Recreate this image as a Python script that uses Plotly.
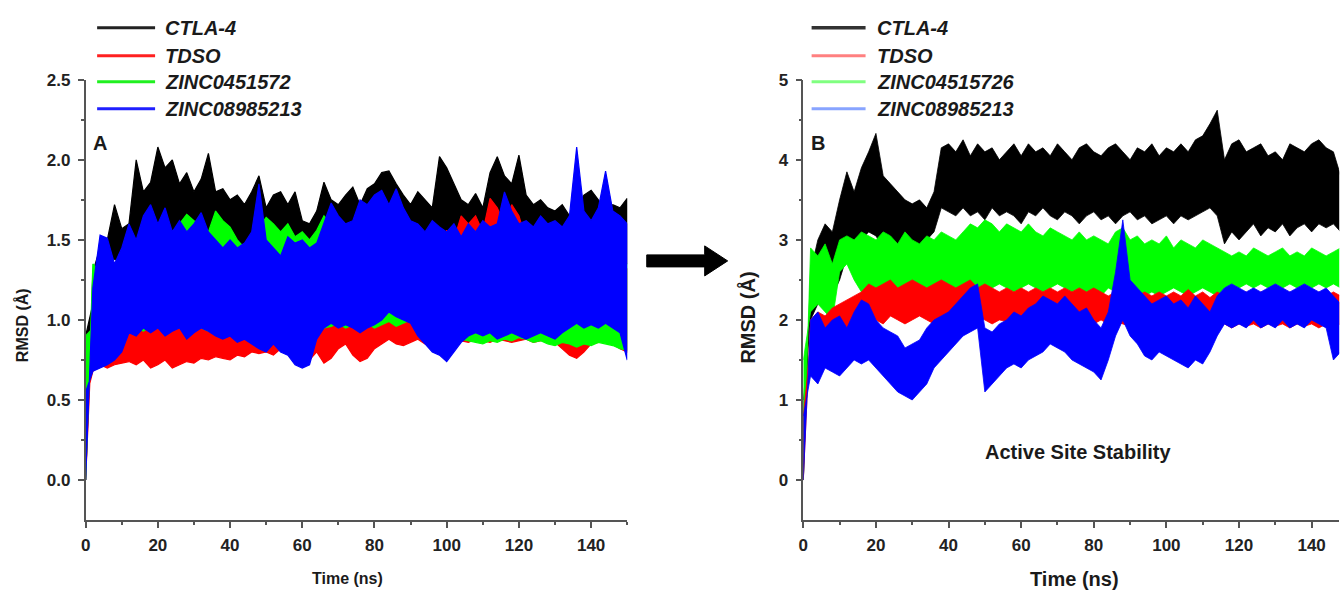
import plotly.graph_objects as go

# ---------------- data ----------------
# sample times (ns); each sample holds an upper and a lower reading of the noisy band
TIME = list(range(0, 151, 2))

SERIES_NAMES_A = ["CTLA-4", "TDSO", "ZINC0451572", "ZINC08985213"]
SERIES_NAMES_B = ["CTLA-4", "TDSO", "ZINC04515726", "ZINC08985213"]

# ---- Panel A ----
A_CTLA4_HI = [0.00, 1.30, 1.45, 1.50, 1.72, 1.57, 1.60, 2.00, 1.80, 1.86,
              2.08, 1.95, 2.00, 1.85, 1.92, 1.80, 1.88, 2.04, 1.80, 1.82,
              1.75, 1.78, 1.72, 1.80, 1.90, 1.70, 1.78, 1.80, 1.72, 1.80,
              1.62, 1.60, 1.68, 1.86, 1.75, 1.72, 1.78, 1.83, 1.72, 1.82,
              1.85, 1.92, 1.93, 1.85, 1.78, 1.72, 1.80, 1.75, 1.70, 2.02,
              1.95, 1.85, 1.75, 1.72, 1.79, 1.70, 1.92, 2.02, 1.90, 1.85,
              2.03, 1.78, 1.72, 1.75, 1.70, 1.68, 1.72, 1.65, 1.70, 1.78,
              1.81, 1.75, 1.68, 1.72, 1.70, 1.76]
A_CTLA4_LO = [0.90, 1.10, 1.25, 1.35, 1.38, 1.35, 1.40, 1.45, 1.50, 1.52,
              1.55, 1.50, 1.52, 1.48, 1.50, 1.45, 1.48, 1.50, 1.45, 1.42,
              1.45, 1.40, 1.42, 1.45, 1.40, 1.42, 1.45, 1.40, 1.42, 1.38,
              1.40, 1.38, 1.42, 1.45, 1.42, 1.40, 1.45, 1.42, 1.40, 1.45,
              1.48, 1.45, 1.42, 1.40, 1.45, 1.40, 1.42, 1.38, 1.40, 1.45,
              1.42, 1.40, 1.38, 1.40, 1.42, 1.40, 1.45, 1.48, 1.45, 1.42,
              1.45, 1.40, 1.38, 1.40, 1.42, 1.38, 1.40, 1.42, 1.40, 1.42,
              1.45, 1.42, 1.40, 1.42, 1.38, 1.35]
A_TDSO_HI = [0.00, 1.05, 1.20, 1.38, 1.25, 1.30, 1.35, 1.25, 1.30, 1.28,
             1.32, 1.30, 1.28, 1.35, 1.30, 1.32, 1.28, 1.40, 1.30, 1.35,
             1.30, 1.28, 1.32, 1.30, 1.35, 1.30, 1.28, 1.32, 1.30, 1.28,
             1.30, 1.32, 1.30, 1.35, 1.30, 1.32, 1.30, 1.28, 1.32, 1.30,
             1.35, 1.30, 1.32, 1.35, 1.30, 1.32, 1.35, 1.38, 1.40, 1.45,
             1.56, 1.50, 1.65, 1.60, 1.65, 1.55, 1.76, 1.70, 1.60, 1.72,
             1.65, 1.50, 1.55, 1.45, 1.50, 1.45, 1.40, 1.45, 1.38, 1.35,
             1.40, 1.38, 1.35, 1.38, 1.35, 1.32]
A_TDSO_LO = [0.50, 0.68, 0.72, 0.70, 0.72, 0.73, 0.74, 0.72, 0.75, 0.70,
             0.72, 0.75, 0.70, 0.72, 0.74, 0.73, 0.76, 0.75, 0.77, 0.76,
             0.75, 0.78, 0.77, 0.80, 0.79, 0.80, 0.78, 0.82, 0.80, 0.84,
             0.82, 0.75, 0.80, 0.73, 0.76, 0.82, 0.85, 0.78, 0.74, 0.76,
             0.82, 0.85, 0.88, 0.85, 0.84, 0.86, 0.88, 0.85, 0.90, 0.88,
             0.86, 0.88, 0.87, 0.86, 0.88, 0.87, 0.86, 0.88, 0.87, 0.86,
             0.87, 0.88, 0.86, 0.87, 0.88, 0.86, 0.82, 0.78, 0.76, 0.80,
             0.85, 0.86, 0.87, 0.85, 0.82, 0.80]
A_ZINC1_HI = [0.00, 1.35, 1.30, 1.40, 1.35, 1.38, 1.42, 1.45, 1.40, 1.55,
              1.50, 1.52, 1.55, 1.60, 1.66, 1.62, 1.60, 1.55, 1.68, 1.62,
              1.58, 1.50, 1.45, 1.50, 1.58, 1.64, 1.60, 1.55, 1.60, 1.52,
              1.55, 1.50, 1.56, 1.65, 1.60, 1.55, 1.52, 1.48, 1.45, 1.50,
              1.55, 1.50, 1.52, 1.55, 1.48, 1.45, 1.50, 1.42, 1.40, 1.45,
              1.40, 1.38, 1.42, 1.45, 1.40, 1.38, 1.42, 1.48, 1.45, 1.42,
              1.40, 1.38, 1.42, 1.40, 1.38, 1.42, 1.40, 1.45, 1.40, 1.42,
              1.40, 1.38, 1.40, 1.38, 1.40, 1.35]
A_ZINC1_LO = [0.90, 0.95, 0.92, 0.95, 0.93, 0.95, 0.97, 0.95, 0.93, 0.96,
              0.95, 0.97, 0.94, 0.95, 0.94, 0.96, 0.95, 0.93, 0.95, 0.92,
              0.94, 0.93, 0.95, 0.92, 0.94, 0.93, 0.95, 0.92, 0.94, 0.93,
              0.92, 0.94, 0.92, 0.95, 0.96, 0.98, 0.95, 0.97, 0.96, 0.98,
              0.95, 0.97, 0.99, 0.96, 0.98, 1.00, 0.96, 0.94, 0.92, 0.90,
              0.92, 0.90, 0.88, 0.87, 0.86, 0.85, 0.87, 0.86, 0.88, 0.87,
              0.89, 0.88, 0.86, 0.87, 0.85, 0.84, 0.86, 0.85, 0.83, 0.85,
              0.84, 0.86, 0.85, 0.84, 0.82, 0.81]
A_ZINC2_HI = [0.00, 1.20, 1.53, 1.51, 1.35, 1.45, 1.60, 1.50, 1.65, 1.72,
              1.60, 1.70, 1.55, 1.62, 1.55, 1.60, 1.67, 1.55, 1.50, 1.45,
              1.50, 1.45, 1.48, 1.55, 1.85, 1.50, 1.45, 1.40, 1.52, 1.48,
              1.50, 1.45, 1.48, 1.60, 1.73, 1.65, 1.60, 1.62, 1.75, 1.72,
              1.78, 1.81, 1.72, 1.82, 1.70, 1.62, 1.60, 1.55, 1.62, 1.58,
              1.55, 1.60, 1.52, 1.60, 1.55, 1.62, 1.58, 1.60, 1.80, 1.68,
              1.60, 1.62, 1.58, 1.65, 1.60, 1.62, 1.58, 1.65, 2.08, 1.68,
              1.62, 1.70, 1.93, 1.68, 1.65, 1.60]
A_ZINC2_LO = [0.55, 0.68, 0.70, 0.72, 0.75, 0.80, 0.92, 0.90, 0.95, 0.92,
              0.95, 0.90, 0.93, 0.95, 0.88, 0.92, 0.95, 0.93, 0.90, 0.88,
              0.90, 0.86, 0.88, 0.85, 0.82, 0.80, 0.85, 0.80, 0.78, 0.72,
              0.70, 0.72, 0.88, 0.95, 0.98, 0.95, 0.97, 0.95, 0.92, 0.95,
              0.97, 1.00, 1.05, 1.02, 1.00, 0.98, 0.90, 0.85, 0.80, 0.78,
              0.74, 0.80, 0.86, 0.90, 0.92, 0.90, 0.92, 0.88, 0.90, 0.92,
              0.90, 0.88, 0.90, 0.92, 0.90, 0.88, 0.92, 0.95, 0.98, 0.95,
              0.97, 0.95, 0.98, 0.95, 0.92, 0.75]

# ---- Panel B ----
B_CTLA4_HI = [0.00, 2.60, 3.00, 3.20, 3.10, 3.50, 3.85, 3.60, 3.90, 4.10,
              4.33, 3.80, 3.70, 3.60, 3.50, 3.45, 3.50, 3.40, 3.60, 4.15,
              4.20, 4.10, 4.25, 4.05, 4.20, 4.10, 4.15, 4.00, 4.10, 4.20,
              4.05, 4.20, 4.10, 4.15, 4.05, 4.20, 4.10, 4.00, 4.15, 4.20,
              4.10, 4.05, 4.15, 4.20, 4.10, 4.00, 4.15, 4.10, 4.20, 4.05,
              4.15, 4.10, 4.20, 4.10, 4.25, 4.30, 4.45, 4.62, 4.00, 4.20,
              4.25, 4.10, 4.15, 4.20, 4.05, 4.10, 4.00, 4.20, 4.15, 4.10,
              4.20, 4.25, 4.15, 4.10, 3.80, 3.60]
B_CTLA4_LO = [1.00, 2.00, 2.20, 2.40, 2.30, 2.50, 2.80, 2.90, 3.00, 3.10,
              3.05, 2.90, 2.80, 2.85, 2.90, 2.95, 2.90, 3.00, 3.10, 3.40,
              3.35, 3.30, 3.40, 3.30, 3.35, 3.25, 3.40, 3.30, 3.35, 3.30,
              3.20, 3.35, 3.30, 3.40, 3.30, 3.25, 3.35, 3.30, 3.20, 3.30,
              3.35, 3.25, 3.30, 3.20, 3.30, 3.35, 3.25, 3.30, 3.20, 3.25,
              3.30, 3.20, 3.30, 3.25, 3.30, 3.35, 3.40, 3.30, 2.95, 3.10,
              3.00, 3.10, 3.20, 3.05, 3.15, 3.10, 3.20, 3.05, 3.15, 3.20,
              3.10, 3.20, 3.15, 3.20, 3.10, 3.00]
B_TDSO_HI = [0.00, 2.00, 2.10, 2.05, 2.15, 2.20, 2.25, 2.30, 2.35, 2.45,
             2.40, 2.45, 2.50, 2.40, 2.45, 2.50, 2.45, 2.40, 2.45, 2.50,
             2.45, 2.40, 2.45, 2.50, 2.40, 2.45, 2.40, 2.35, 2.40, 2.35,
             2.40, 2.35, 2.40, 2.35, 2.40, 2.35, 2.40, 2.35, 2.40, 2.35,
             2.40, 2.35, 2.30, 2.35, 2.40, 2.35, 2.30, 2.35, 2.30, 2.35,
             2.30, 2.35, 2.30, 2.38, 2.30, 2.35, 2.28, 2.35, 2.30, 2.35,
             2.30, 2.35, 2.30, 2.35, 2.32, 2.35, 2.30, 2.35, 2.30, 2.35,
             2.30, 2.35, 2.30, 2.35, 2.30, 2.30]
B_TDSO_LO = [0.80, 1.70, 1.75, 1.80, 1.75, 1.80, 1.90, 1.95, 2.00, 2.05,
             2.00, 1.95, 2.05, 2.00, 1.95, 2.00, 2.05, 2.00, 1.95, 2.00,
             2.05, 2.00, 1.95, 2.00, 2.05, 2.00, 1.95, 2.00, 1.98, 2.00,
             1.95, 2.00, 1.98, 1.95, 2.00, 1.95, 1.98, 2.00, 1.95, 1.98,
             1.95, 2.00, 1.95, 1.98, 1.95, 1.92, 1.95, 1.98, 1.95, 1.92,
             1.95, 1.92, 1.95, 1.90, 1.95, 1.92, 1.95, 1.92, 1.95, 1.90,
             1.95, 1.92, 1.95, 1.90, 1.95, 1.92, 1.95, 1.90, 1.95, 1.92,
             1.95, 1.90, 1.95, 1.92, 1.95, 1.90]
B_ZINC1_HI = [0.00, 2.90, 2.80, 2.95, 2.70, 3.00, 3.05, 3.00, 3.10, 3.05,
              3.00, 3.10, 3.05, 2.95, 3.10, 3.00, 2.95, 3.05, 3.00, 3.10,
              3.05, 3.00, 3.10, 3.20, 3.15, 3.25, 3.20, 3.10, 3.20, 3.15,
              3.10, 3.20, 3.10, 3.05, 3.15, 3.10, 3.05, 3.00, 3.10, 3.00,
              3.05, 3.00, 2.95, 3.10, 3.15, 3.00, 3.05, 2.95, 3.00, 2.95,
              3.05, 2.90, 3.00, 2.95, 2.90, 3.00, 2.95, 2.90, 2.85, 2.80,
              2.85, 2.80, 2.90, 2.85, 2.80, 2.85, 2.90, 2.80, 2.85, 2.80,
              2.90, 2.85, 2.80, 2.85, 2.90, 2.80]
B_ZINC1_LO = [1.50, 2.10, 2.20, 2.10, 2.00, 2.60, 2.70, 2.50, 2.35, 2.30,
              2.35, 2.40, 2.30, 2.35, 2.30, 2.40, 2.35, 2.30, 2.40, 2.45,
              2.40, 2.35, 2.30, 2.45, 2.40, 2.35, 2.40, 2.45, 2.40, 2.35,
              2.40, 2.45, 2.40, 2.35, 2.40, 2.45, 2.40, 2.35, 2.40, 2.30,
              2.35, 2.30, 2.40, 2.35, 2.30, 2.40, 2.35, 2.30, 2.35, 2.30,
              2.35, 2.40, 2.35, 2.30, 2.35, 2.40, 2.35, 2.30, 2.40, 2.45,
              2.40, 2.45, 2.40, 2.45, 2.40, 2.45, 2.40, 2.45, 2.40, 2.45,
              2.40, 2.45, 2.40, 2.45, 2.40, 2.40]
B_ZINC2_HI = [0.00, 2.00, 2.10, 1.90, 2.00, 2.05, 1.90, 2.10, 2.25, 2.20,
              2.00, 1.90, 1.85, 1.80, 1.65, 1.70, 1.75, 1.90, 2.00, 2.05,
              2.10, 2.20, 2.30, 2.40, 2.45, 1.90, 1.85, 1.95, 2.00, 2.10,
              2.05, 2.15, 2.20, 2.30, 2.25, 2.20, 2.30, 2.20, 2.10, 2.15,
              2.00, 1.90, 2.10, 2.60, 3.25, 2.50, 2.40, 2.30, 2.20, 2.25,
              2.30, 2.20, 2.25, 2.15, 2.30, 2.20, 2.10, 2.30, 2.40, 2.45,
              2.40, 2.35, 2.40, 2.35, 2.40, 2.45, 2.40, 2.35, 2.40, 2.45,
              2.40, 2.35, 2.40, 2.30, 2.20, 2.30]
B_ZINC2_LO = [0.80, 1.30, 1.20, 1.40, 1.35, 1.30, 1.40, 1.50, 1.45, 1.50,
              1.40, 1.30, 1.20, 1.10, 1.05, 1.00, 1.10, 1.20, 1.40, 1.50,
              1.60, 1.70, 1.80, 1.85, 1.90, 1.10, 1.20, 1.30, 1.40, 1.45,
              1.40, 1.50, 1.55, 1.60, 1.70, 1.65, 1.60, 1.50, 1.45, 1.40,
              1.35, 1.25, 1.50, 1.80, 2.00, 1.80, 1.70, 1.55, 1.50, 1.60,
              1.55, 1.50, 1.45, 1.40, 1.50, 1.45, 1.60, 1.80, 1.95, 1.90,
              1.95, 1.90, 2.00, 1.90, 1.95, 1.90, 2.00, 1.90, 1.95, 1.90,
              2.00, 1.95, 1.90, 1.50, 1.60, 1.70]

X_TICKS = [0, 20, 40, 60, 80, 100, 120, 140]
A_Y_TICKS = [0.0, 0.5, 1.0, 1.5, 2.0, 2.5]
B_Y_TICKS = [0, 1, 2, 3, 4, 5]

# ---------------- figure ----------------
W, H = 1340, 590
COL_A = ["#000000", "#ff0000", "#00ff00", "#0000ff"]
LEG_A = ["#222222", "#ff2020", "#20f020", "#2020ff"]
LEG_B = ["#333333", "#ff8080", "#80ff80", "#88a4ff"]
FONT = "Liberation Sans, Arial, sans-serif"

# small correction for the offset observed between intended and photographed pixels
OX, SX = 4.8, 0.997
OY, SY = 9.3, 0.984


def px(x):
    return ((x - OX) / SX) / W


def py(y):
    return 1 - ((y - OY) / SY) / H


def band(times, hi, lo):
    # upper readings left-to-right, then lower readings back, closed at t=0
    xs = [times[0]] + list(times) + list(times[::-1])
    ys = [0.0] + list(hi) + list(lo[::-1])
    return xs, ys


fig = go.Figure()

A_SETS = [(A_CTLA4_HI, A_CTLA4_LO), (A_TDSO_HI, A_TDSO_LO),
          (A_ZINC1_HI, A_ZINC1_LO), (A_ZINC2_HI, A_ZINC2_LO)]
B_SETS = [(B_CTLA4_HI, B_CTLA4_LO), (B_TDSO_HI, B_TDSO_LO),
          (B_ZINC1_HI, B_ZINC1_LO), (B_ZINC2_HI, B_ZINC2_LO)]

# panel A: black, red, green, blue (blue on top)
for idx in [0, 1, 2, 3]:
    hi, lo = A_SETS[idx]
    xs, ys = band(TIME, hi, lo)
    fig.add_trace(go.Scatter(x=xs, y=ys, mode="lines", name=SERIES_NAMES_A[idx],
                             fill="toself", fillcolor=COL_A[idx],
                             line=dict(color=COL_A[idx], width=1.2),
                             xaxis="x", yaxis="y", showlegend=False))
# panel B: black, green, red, blue
for idx in [0, 2, 1, 3]:
    hi, lo = B_SETS[idx]
    xs, ys = band(TIME, hi, lo)
    fig.add_trace(go.Scatter(x=xs, y=ys, mode="lines", name=SERIES_NAMES_B[idx],
                             fill="toself", fillcolor=COL_A[idx],
                             line=dict(color=COL_A[idx], width=0.8),
                             xaxis="x2", yaxis="y2", showlegend=False))

YDOM = [py(520), py(80)]
TICKC = "#555555"
axis_common = dict(showgrid=False, zeroline=False, showline=True, linecolor=TICKC,
                   linewidth=1.6, ticks="outside", ticklen=6, tickwidth=1.6,
                   tickcolor=TICKC, layer="above traces",
                   tickfont=dict(family=FONT, size=17, color="#222222", weight="bold"))


def minor(vals):
    return dict(tickvals=vals, ticklen=3, tickwidth=1.6, tickcolor=TICKC, ticks="outside")


fig.update_layout(
    width=W, height=H, margin=dict(l=0, r=0, t=0, b=0),
    paper_bgcolor="white", plot_bgcolor="white", showlegend=False,
    xaxis=dict(domain=[px(85.5), px(627.5)], range=[0, 150], anchor="y",
               tickvals=X_TICKS, minor=minor([10, 30, 50, 70, 90, 110, 130, 150]),
               ticklabelstandoff=3, **axis_common),
    yaxis=dict(domain=YDOM, range=[-0.25, 2.5001], anchor="x",
               tickvals=A_Y_TICKS, ticktext=[f"{v:.1f}" for v in A_Y_TICKS],
               minor=minor([0.25, 0.75, 1.25, 1.75, 2.25]),
               ticklabelstandoff=4, **axis_common),
    xaxis2=dict(domain=[px(803.7), min(1.0, px(1340))], range=[0, 147.6], anchor="y2",
                tickvals=X_TICKS, minor=minor([10, 30, 50, 70, 90, 110, 130]),
                ticklabelstandoff=3, **axis_common),
    yaxis2=dict(domain=YDOM, range=[-0.5, 5.0002], anchor="x2",
                tickvals=B_Y_TICKS, ticktext=[str(v) for v in B_Y_TICKS],
                minor=minor([0.5, 1.5, 2.5, 3.5, 4.5]),
                ticklabelstandoff=4, **axis_common),
)

annotations = []
shapes = []


def text(x, y, s, size, italic=False, xanchor="center", angle=0, color="#1a1a1a"):
    annotations.append(dict(
        x=px(x), y=py(y), xref="paper", yref="paper", text=s, showarrow=False,
        xanchor=xanchor, yanchor="middle", textangle=angle,
        font=dict(family=FONT, size=size, color=color, weight="bold",
                  style="italic" if italic else "normal")))


# legends
LEG_Y = [28, 56, 82, 109]
for name, c, yy in zip(SERIES_NAMES_A, LEG_A, LEG_Y):
    shapes.append(dict(type="line", xref="paper", yref="paper",
                       x0=px(97), x1=px(155), y0=py(yy), y1=py(yy),
                       line=dict(color=c, width=3)))
    text(163, yy, name, 20, italic=True, xanchor="left")
for name, c, yy in zip(SERIES_NAMES_B, LEG_B, LEG_Y):
    shapes.append(dict(type="line", xref="paper", yref="paper",
                       x0=px(812), x1=px(866), y0=py(yy), y1=py(yy),
                       line=dict(color=c, width=3.5 if c == "#333333" else 3)))
    text(875, yy, name, 20, italic=True, xanchor="left")

# panel labels and note
text(100, 143, "A", 20)
text(818, 143, "B", 20)
text(1079, 452, "Active Site Stability", 20)

# axis titles
text(348, 578, "Time (ns)", 16)
text(22, 325, "RMSD (Å)", 16, angle=-90)
text(1075, 579, "Time (ns)", 20)
text(748, 318, "RMSD (Å)", 20, angle=-90)

# arrow between panels
pts = [(647, 255), (705, 255), (705, 246), (728, 261), (705, 276), (705, 267), (647, 267)]
path = "M " + " L ".join(f"{px(a):.5f},{py(b):.5f}" for a, b in pts) + " Z"
shapes.append(dict(type="path", xref="paper", yref="paper", path=path,
                   fillcolor="#000000", line=dict(color="#000000", width=1)))

fig.update_layout(annotations=annotations, shapes=shapes)
fig.write_html("out.html", config={"displayModeBar": False},
               post_script="document.body.style.margin='0';"
                           "document.body.style.overflow='hidden';")
